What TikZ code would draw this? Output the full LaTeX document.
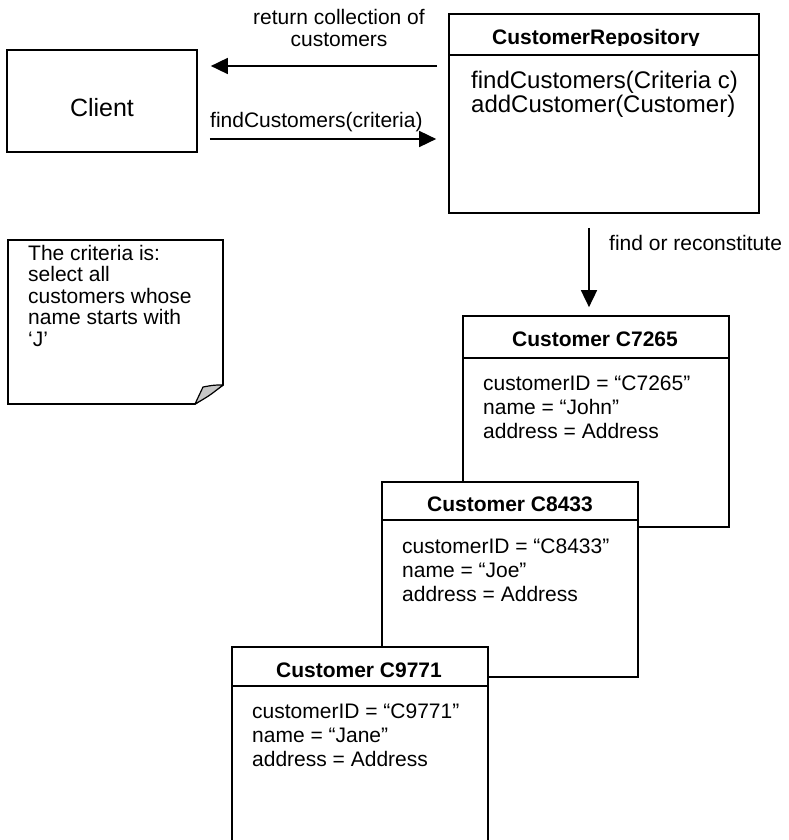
\documentclass[tikz,border=0pt]{standalone}
\usepackage{fontspec}
\setmainfont{Liberation Sans}
\usetikzlibrary{arrows.meta}
\tikzset{
  box/.style={draw, line width=1.7pt, fill=white, inner sep=0pt},
  sep/.style={line width=1.7pt},
  txt/.style={font=\fontsize{21}{24}\selectfont, inner sep=0pt, anchor=base west},
  ttl/.style={font=\fontsize{21}{24}\selectfont\bfseries, inner sep=0pt, anchor=base},
  big/.style={font=\fontsize{24}{24}\selectfont, inner sep=0pt, anchor=base west},
  flow/.style={line width=1.7pt, -{Triangle[length=17pt,width=16pt]}},
}
\begin{document}
\begin{tikzpicture}[x=1pt,y=-1pt]
\useasboundingbox (0,0) rectangle (788,840);

% Client
\node[box, minimum width=190pt, minimum height=102pt] (client) at (102,101) {};
\node[font=\fontsize{25}{25}\selectfont, inner sep=0pt, anchor=base] (clienttxt) at (102,117) {Client};

% Repository
\node[box, minimum width=310pt, minimum height=199pt] (repo) at (604,113.5) {};
\draw[sep] ([yshift=-42pt]repo.north west) -- ([yshift=-42pt]repo.north east);
\begin{scope}
\clip (450,15) rectangle (758,45.5);
\node[ttl] (repotitle) at (596,45) {CustomerRepository};
\end{scope}
\node[big] (m1) at (471,89) {findCustomers(Criteria c)};
\node[big] (m2) at (471,113) {addCustomer(Customer)};

% arrows between client and repository
\draw[flow, shorten <=11pt, shorten >=13pt] ([yshift=47.5pt]repo.west) -- ([yshift=35pt]client.east);
\draw[flow, shorten <=12pt, shorten >=12pt] ([yshift=-38pt]client.east) -- ([yshift=-25.5pt]repo.west);
\node[font=\fontsize{21}{24}\selectfont, inner sep=0pt, anchor=base] (ret1) at (339,25) {return collection of};
\node[font=\fontsize{21}{24}\selectfont, inner sep=0pt, anchor=base] (ret2) at (339,47) {customers};
\node[txt] (findlbl) at (210,128) {findCustomers(criteria)};

% Note
\draw[line width=1.7pt, line join=miter] (8,240) -- (223,240) -- (223,385) -- (195,404) -- (8,404) -- cycle;
\draw[line width=1.2pt, fill=gray!45, line join=round] (223,385) .. controls (214,385) .. (203,387) -- (195,404) .. controls (209,396) .. (223,385);
\node[txt] (n1) at (28,260) {The criteria is:};
\node[txt] (n2) at (28,281.5) {select all};
\node[txt] (n3) at (28,303) {customers whose};
\node[txt] (n4) at (28,324.5) {name starts with};
\node[txt] (n5) at (28,346) {‘J’};

% Customer C7265
\node[box, minimum width=266pt, minimum height=211pt] (c1) at (596,421.5) {};
\draw[sep] ([yshift=-43pt]c1.north west) -- ([yshift=-43pt]c1.north east);
\node[ttl] (c1t) at (595,346) {Customer C7265};
\node[txt] (c1a) at (483,390) {customerID = “C7265”};
\node[txt] (c1b) at (483,414) {name = “John”};
\node[txt] (c1c) at (483,438) {address = Address};

% find or reconstitute arrow
\draw[flow, shorten <=14pt, shorten >=8pt] ([xshift=-15pt]repo.south) -- ([xshift=-7pt]c1.north);
\node[txt] (findlbl2) at (609,250) {find or reconstitute};

% Customer C8433
\node[box, minimum width=256pt, minimum height=195pt] (c2) at (510,579.5) {};
\draw[sep] ([yshift=-39pt]c2.north west) -- ([yshift=-39pt]c2.north east);
\node[ttl] (c2t) at (510,511) {Customer C8433};
\node[txt] (c2a) at (402,553) {customerID = “C8433”};
\node[txt] (c2b) at (402,577) {name = “Joe”};
\node[txt] (c2c) at (402,601) {address = Address};

% Customer C9771
\node[box, minimum width=256pt, minimum height=205pt] (c3) at (360,749.5) {};
\draw[sep] ([yshift=-40pt]c3.north west) -- ([yshift=-40pt]c3.north east);
\node[ttl] (c3t) at (359,677) {Customer C9771};
\node[txt] (c3a) at (252,718) {customerID = “C9771”};
\node[txt] (c3b) at (252,742) {name = “Jane”};
\node[txt] (c3c) at (252,766) {address = Address};
\end{tikzpicture}
\end{document}
